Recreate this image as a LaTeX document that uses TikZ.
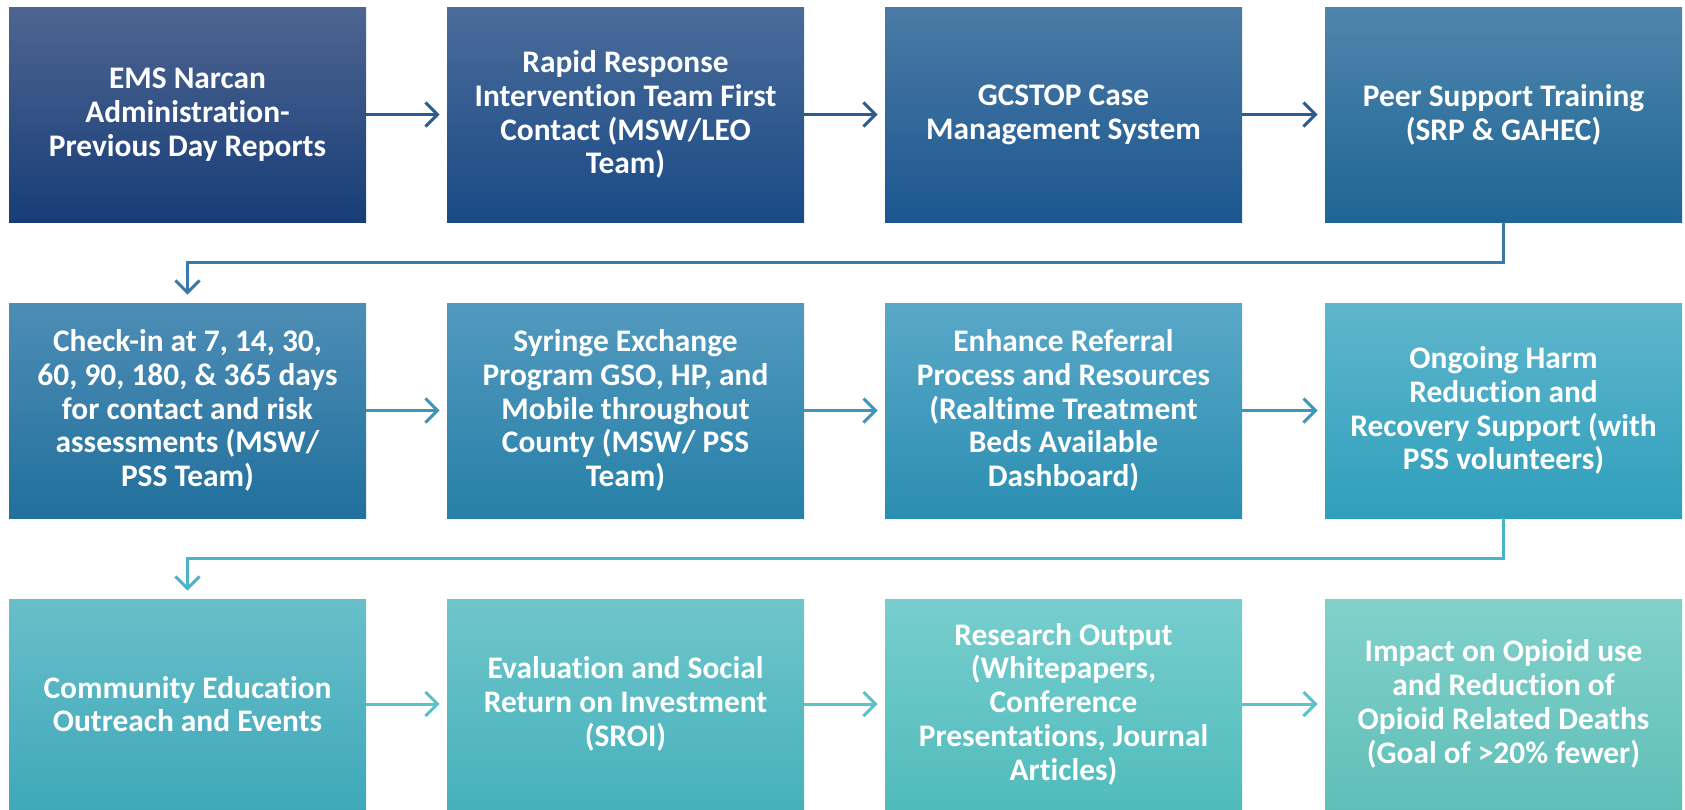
\documentclass[tikz,border=0pt]{standalone}
\usepackage{fontspec}
\setmainfont{Carlito}[Ligatures=NoCommon]
\usetikzlibrary{arrows.meta}
\definecolor{t1}{HTML}{4E6591}\definecolor{b1}{HTML}{173D77}
\definecolor{t2}{HTML}{4A6C9A}\definecolor{b2}{HTML}{1A4A85}
\definecolor{t3}{HTML}{4B7BA5}\definecolor{b3}{HTML}{1B5690}
\definecolor{t4}{HTML}{4E86AD}\definecolor{b4}{HTML}{1F6594}
\definecolor{t5}{HTML}{4D8DB5}\definecolor{b5}{HTML}{21709D}
\definecolor{t6}{HTML}{5399BE}\definecolor{b6}{HTML}{2680A8}
\definecolor{t7}{HTML}{5AA8C8}\definecolor{b7}{HTML}{2A8EB1}
\definecolor{t8}{HTML}{5EB6CC}\definecolor{b8}{HTML}{309FBC}
\definecolor{t9}{HTML}{68BFC9}\definecolor{b9}{HTML}{3FA8B9}
\definecolor{t10}{HTML}{6FC6CB}\definecolor{b10}{HTML}{46B1BB}
\definecolor{t11}{HTML}{78CECE}\definecolor{b11}{HTML}{50BBBB}
\definecolor{t12}{HTML}{82D1CB}\definecolor{b12}{HTML}{5FBFB8}
\definecolor{a1}{HTML}{2C5A93}
\definecolor{c1}{HTML}{3A78A8}
\definecolor{a2}{HTML}{3D95BC}
\definecolor{c2}{HTML}{4BB3C6}
\definecolor{a3}{HTML}{5BC2C8}
\tikzset{
  flowbox/.style 2 args={rectangle, draw=none, top color=#1, bottom color=#2,
    minimum width=178.5pt, minimum height=107.5pt, inner sep=0pt,
    text=white, align=center,
    font=\fontsize{15.7pt}{16.9pt}\selectfont\bfseries},
  lastrow/.style={minimum height=105pt},
  flowarrow/.style={line width=1.5pt, -{Straight Barb[length=6pt,width=12pt,line width=1.5pt]}}
}
\begin{document}
\begin{tikzpicture}[x=0.5pt,y=-0.5pt]
\useasboundingbox (0,0) rectangle (1685,809);
% row 1
\node[flowbox={t1}{b1}] (n1) at (187.5,114.5) {EMS Narcan\\Administration-\\Previous Day Reports};
\node[flowbox={t2}{b2}] (n2) at (625.5,114.5) {Rapid Response\\Intervention Team First\\Contact (MSW/LEO\\Team)};
\node[flowbox={t3}{b3}] (n3) at (1063.5,114.5) {GCSTOP Case\\Management System};
\node[flowbox={t4}{b4}] (n4) at (1503.5,114.5) {Peer Support Training\\(SRP \& GAHEC)};
% row 2
\node[flowbox={t5}{b5}] (n5) at (187.5,410.5) {Check-in at 7, 14, 30,\\60, 90, 180, \& 365 days\\for contact and risk\\assessments (MSW/\\PSS Team)};
\node[flowbox={t6}{b6}] (n6) at (625.5,410.5) {Syringe Exchange\\Program GSO, HP, and\\Mobile throughout\\County (MSW/ PSS\\Team)};
\node[flowbox={t7}{b7}] (n7) at (1063.5,410.5) {Enhance Referral\\Process and Resources\\(Realtime Treatment\\Beds Available\\Dashboard)};
\node[flowbox={t8}{b8}] (n8) at (1503.5,410.5) {Ongoing Harm\\Reduction and\\Recovery Support (with\\PSS volunteers)};
% row 3
\node[flowbox={t9}{b9},lastrow] (n9) at (187.5,704) {Community Education\\Outreach and Events};
\node[flowbox={t10}{b10},lastrow] (n10) at (625.5,704) {Evaluation and Social\\Return on Investment\\(SROI)};
\node[flowbox={t11}{b11},lastrow] (n11) at (1063.5,704) {Research Output\\(Whitepapers,\\Conference\\Presentations, Journal\\Articles)};
\node[flowbox={t12}{b12},lastrow] (n12) at (1503.5,704) {Impact on Opioid use\\and Reduction of\\Opioid Related Deaths\\(Goal of >20\% fewer)};
% arrows row 1
\draw[flowarrow, a1] (n1.east) -- ([xshift=-3.5pt]n2.west);
\draw[flowarrow, a1] (n2.east) -- ([xshift=-3.5pt]n3.west);
\draw[flowarrow, a1] (n3.east) -- ([xshift=-3.5pt]n4.west);
% connector 1
\coordinate (k1) at (1503.5,262);
\coordinate (k2) at (187.5,262);
\draw[flowarrow, c1] (n4.south) -- (k1) -- (k2) -- ([yshift=4pt]n5.north);
% arrows row 2
\draw[flowarrow, a2] (n5.east) -- ([xshift=-3.5pt]n6.west);
\draw[flowarrow, a2] (n6.east) -- ([xshift=-3.5pt]n7.west);
\draw[flowarrow, a2] (n7.east) -- ([xshift=-3.5pt]n8.west);
% connector 2
\coordinate (k3) at (1503.5,558);
\coordinate (k4) at (187.5,558);
\draw[flowarrow, c2] (n8.south) -- (k3) -- (k4) -- ([yshift=4pt]n9.north);
% arrows row 3
\draw[flowarrow, a3] (n9.east) -- ([xshift=-3.5pt]n10.west);
\draw[flowarrow, a3] (n10.east) -- ([xshift=-3.5pt]n11.west);
\draw[flowarrow, a3] (n11.east) -- ([xshift=-3.5pt]n12.west);
\end{tikzpicture}
\end{document}
